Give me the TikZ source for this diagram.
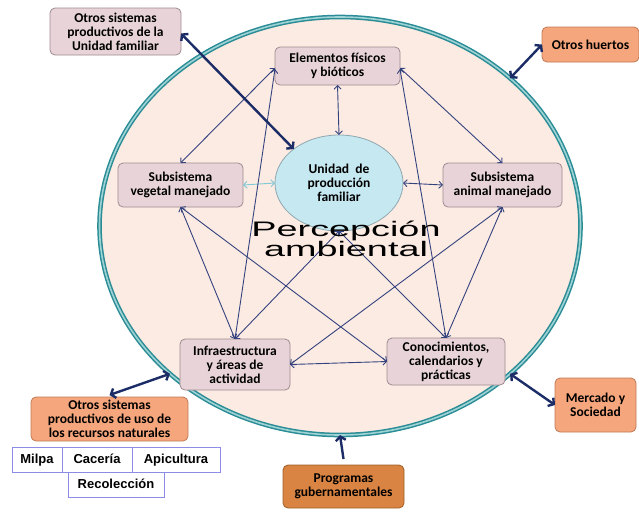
\documentclass[tikz,border=0pt]{standalone}
\usepackage{fontspec}
\setmainfont{Carlito}
\newfontfamily\arialf{Liberation Sans}
\usetikzlibrary{shapes.geometric,arrows.meta}
\definecolor{pinkfill}{HTML}{E8D4D8}
\definecolor{pinkborder}{HTML}{9E8A90}
\definecolor{peach}{HTML}{FCEBE3}
\definecolor{tealdark}{HTML}{2A8C95}
\definecolor{teallight}{HTML}{9FD3D6}
\definecolor{cyanfill}{HTML}{C6E8F1}
\definecolor{cyanborder}{HTML}{8FA8B0}
\definecolor{orangefill}{HTML}{F5A67C}
\definecolor{orangeborder}{HTML}{C07A55}
\definecolor{dorangefill}{HTML}{D98442}
\definecolor{dorangeborder}{HTML}{A05E28}
\definecolor{navy}{HTML}{34437E}
\definecolor{darknavy}{HTML}{1B2C66}
\definecolor{lcyanarrow}{HTML}{7FC8D6}
\definecolor{tableborder}{HTML}{8C8CE6}
\begin{document}
\begin{tikzpicture}[x=1pt,y=-1pt,
  txt/.style={font=\fontsize{13.5}{14}\selectfont\bfseries, align=center, text=black},
  box/.style={txt, draw=pinkborder, fill=pinkfill, rounded corners=5pt, line width=0.8pt, inner sep=1pt, outer sep=0pt},
  obox/.style={txt, draw=orangeborder, fill=orangefill, rounded corners=5pt, line width=0.8pt, inner sep=1pt, outer sep=0pt},
  dbox/.style={txt, draw=dorangeborder, fill=dorangefill, rounded corners=5pt, line width=0.8pt, inner sep=1pt, outer sep=0pt},
  cell/.style={font=\arialf\fontsize{13}{14}\selectfont\bfseries, draw=tableborder, line width=0.7pt, minimum height=25, text height=9.5pt, text depth=2.5pt, inner sep=0pt, outer sep=0pt},
  thinarrow/.style={draw=navy, line width=0.9pt, {Straight Barb[length=3.5pt,width=7pt]}-{Straight Barb[length=3.5pt,width=7pt]}},
  cyanarrow/.style={draw=lcyanarrow, line width=0.9pt, {Straight Barb[length=3.5pt,width=7pt]}-{Straight Barb[length=3.5pt,width=7pt]}},
  bigarrow/.style={draw=darknavy, line width=2.4pt, {Straight Barb[length=4pt,width=10pt]}-{Straight Barb[length=4pt,width=10pt]}},
  bigsingle/.style={draw=darknavy, line width=2.4pt, -{Straight Barb[length=4pt,width=10pt]}}
]
\useasboundingbox (0,0) rectangle (639,512);
% big ellipse
\node[ellipse, minimum width=481, minimum height=418, fill=peach, draw=tealdark, line width=1.5pt, double=teallight, double distance=1.6pt, outer sep=0pt, inner sep=0pt] (BE) at (340,226) {};
% inner nodes
\node[ellipse, minimum width=128, minimum height=96, fill=cyanfill, draw=cyanborder, line width=0.8pt, txt, inner sep=0pt, outer sep=0pt] (U) at (339,183) {Unidad~~de\\producción\\familiar};
\node[box, minimum width=125, minimum height=38] (E) at (337.5,66) {Elementos físicos\\y bióticos};
\node[box, minimum width=125, minimum height=44] (V) at (180.5,185) {Subsistema\\vegetal manejado};
\node[box, minimum width=119, minimum height=44] (A) at (502.5,185) {Subsistema\\animal manejado};
\node[box, minimum width=110, minimum height=51] (I) at (235,364.5) {Infraestructura\\y áreas de\\actividad};
\node[box, minimum width=118, minimum height=47] (C) at (446,361.5) {Conocimientos,\\calendarios y\\prácticas};
% inner connectors
\draw[thinarrow] (E.south) -- (U.north);
\draw[cyanarrow] (V.east) -- (U.west);
\draw[thinarrow] (U.east) -- (A.west);
\draw[thinarrow] ([yshift=-2pt]E.west) -- (V.north);
\draw[thinarrow] ([yshift=-3pt]E.west) -- (I.north);
\draw[thinarrow] ([yshift=-2pt]E.east) -- (A.north);
\draw[thinarrow] ([yshift=-3pt]E.east) -- (C.north);
\draw[thinarrow] (V.south) -- (I.north);
\draw[thinarrow] (V.south) -- (C.west);
\draw[thinarrow] (A.south) -- (C.north);
\draw[thinarrow] (A.south) -- (I.east);
\draw[thinarrow] (I.east) -- (C.west);
\draw[thinarrow] (U.south) -- (I.north);
\draw[thinarrow] (U.south) -- (C.north);
% perception text
\node[font=\arialf\fontsize{21}{20}\selectfont, align=center, inner sep=0pt] (P) at (346,239) {\scalebox{1.8}[1]{Percepción}\\\scalebox{1.8}[1]{ambiental}};
% outer nodes
\node[box, minimum width=131, minimum height=47] (O1) at (115.5,31.5) {Otros sistemas\\productivos de la\\Unidad familiar};
\node[obox, minimum width=97, minimum height=35] (OH) at (590.5,44.5) {Otros huertos};
\node[obox, minimum width=81, minimum height=54] (MS) at (595.5,405) {Mercado y\\Sociedad};
\node[dbox, minimum width=121, minimum height=43] (PG) at (343.5,486.5) {Programas\\gubernamentales};
\node[obox, minimum width=157, minimum height=44] (OS) at (109.5,419) {Otros sistemas\\productivos de uso de\\los recursos naturales};
% table
\node[cell, minimum width=50] (T1) at (37,459.5) {Milpa};
\node[cell, minimum width=70] (T2) at (97,459.5) {Cacería};
\node[cell, minimum width=88] (T3) at (176,459.5) {Apicultura};
\node[cell, minimum width=96] (T4) at (116,484.5) {Recolección};
% outer connectors
\draw[bigarrow] ([yshift=-2pt]O1.east) -- (U.north west);
\draw[bigarrow] (BE.north east) -- (OH.west);
\draw[bigarrow] (BE.south east) -- (MS.west);
\draw[bigsingle] ([yshift=6pt]PG.north) -- (BE.south);
\draw[bigarrow] ([yshift=2pt]OS.north) -- (BE.south west);
\end{tikzpicture}
\end{document}
